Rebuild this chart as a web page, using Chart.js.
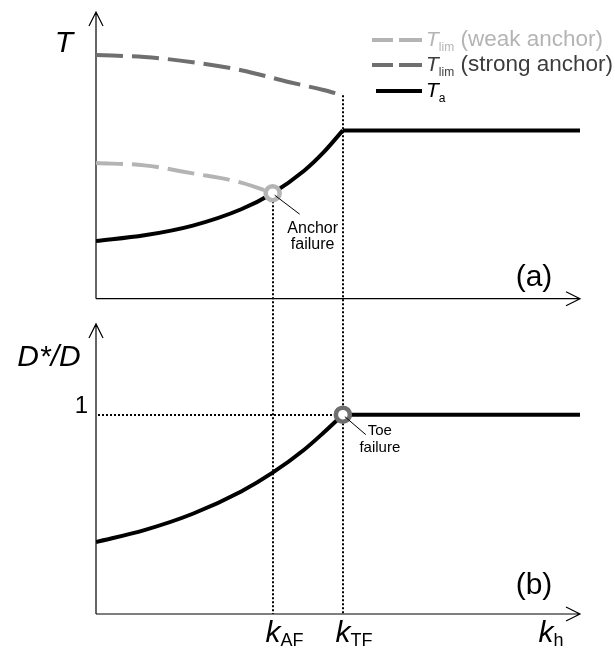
<!DOCTYPE html>
<html>
<head>
<meta charset="utf-8">
<script src="https://cdn.jsdelivr.net/npm/chart.js@4.4.1/dist/chart.umd.min.js"></script>
<style>
  body { margin: 0; background: #fff; }
  #wrap { width: 615px; height: 668px; }
</style>
</head>
<body>
<div id="wrap"><canvas id="chart" width="615" height="668"></canvas></div>
<script>
// positions along k_h (arbitrary units)
const K_AF = 3.65;
const K_TF = 5.1;
const K_MAX = 10;

// (a) applied force T_a and limit forces T_lim
const khCurve = [0, 1, 2, 3, 3.65, 4.3, 4.7, 5.1];
const tApplied = [2.01, 2.21, 2.55, 3.12, 3.68, 4.46, 5.10, 5.87];
const khPlateau = [5.1, 10];
const tAppliedPlateau = [5.87, 5.87];

const khWeak = [0, 1, 2, 3, 3.65];
const tLimWeak = [4.73, 4.65, 4.37, 4.05, 3.68];

const khStrong = [0, 1, 2, 3, 4, 4.7, 5.1];
const tLimStrong = [8.50, 8.43, 8.25, 7.97, 7.55, 7.28, 7.10];

// (b) embedment ratio D*/D
const dRatio = [0.361, 0.421, 0.503, 0.615, 0.709, 0.824, 0.909, 1.0];
const dRatioPlateau = [1, 1];
const dTicks = [1];

const COL_WEAK = '#b4b4b4';
const COL_STRONG = '#6f6f6f';
const FONT = '"Liberation Sans", Arial, sans-serif';

// axis extents (value at arrow tip)
const T_TOP = 10;
const D_TOP = 1.455;

function pts(xs, ys) {
    return xs.map((x, i) => ({x: x, y: ys[i]}));
}

function arrow(ctx, x0, y0, x1, y1) {
    const len = Math.hypot(x1 - x0, y1 - y0);
    const ux = (x1 - x0) / len, uy = (y1 - y0) / len;
    const L = 14, W = 7;
    ctx.beginPath();
    ctx.moveTo(x0, y0);
    ctx.lineTo(x1, y1);
    ctx.moveTo(x1 - L * ux - W * uy, y1 - L * uy + W * ux);
    ctx.lineTo(x1, y1);
    ctx.lineTo(x1 - L * ux + W * uy, y1 - L * uy - W * ux);
    ctx.stroke();
}

// draws a run of text pieces (main letter, subscript, rest) on one baseline
function textRun(ctx, x, y, parts) {
    let cx = x;
    ctx.textAlign = 'left';
    ctx.textBaseline = 'alphabetic';
    parts.forEach(p => {
        ctx.font = p.font;
        ctx.fillText(p.text, cx, y + (p.dy || 0));
        cx += ctx.measureText(p.text).width;
    });
}

function subLabel(ctx, x, y, main, sub) {
    ctx.font = 'italic 30px ' + FONT;
    const w = ctx.measureText(main).width;
    ctx.textAlign = 'center';
    ctx.fillText(main, x, y);
    ctx.font = '18px ' + FONT;
    ctx.textAlign = 'left';
    ctx.fillText(sub, x + w / 2, y + 4);
}

const sketchPlugin = {
    id: 'sketch',
    beforeDatasetsDraw(chart) {
        const ctx = chart.ctx;
        const {x, yT, yD} = chart.scales;
        const x0 = x.getPixelForValue(0);
        const x1 = x.getPixelForValue(K_MAX);

        ctx.save();
        ctx.strokeStyle = '#000';
        ctx.lineWidth = 1.2;
        // axes of both panels
        arrow(ctx, x0, yT.getPixelForValue(0), x0, yT.getPixelForValue(T_TOP));
        arrow(ctx, x0, yT.getPixelForValue(0), x1, yT.getPixelForValue(0));
        arrow(ctx, x0, yD.getPixelForValue(0), x0, yD.getPixelForValue(D_TOP));
        arrow(ctx, x0, yD.getPixelForValue(0), x1, yD.getPixelForValue(0));

        // dotted guides
        ctx.setLineDash([2, 2]);
        ctx.lineWidth = 2;
        ctx.beginPath();
        const xa = Math.round(x.getPixelForValue(K_AF));
        ctx.moveTo(xa, yT.getPixelForValue(tLimWeak[tLimWeak.length - 1]));
        ctx.lineTo(xa, yD.getPixelForValue(0));
        const xt = Math.round(x.getPixelForValue(K_TF));
        ctx.moveTo(xt, yT.getPixelForValue(tLimStrong[tLimStrong.length - 1]));
        ctx.lineTo(xt, yD.getPixelForValue(0));
        dTicks.forEach(v => {
            const yy = Math.round(yD.getPixelForValue(v));
            ctx.moveTo(x0 + 2, yy);
            ctx.lineTo(xt, yy);
        });
        ctx.stroke();
        ctx.restore();
    },
    afterDatasetsDraw(chart) {
        const ctx = chart.ctx;
        const {x, yT, yD} = chart.scales;
        const x0 = x.getPixelForValue(0);
        ctx.save();
        ctx.fillStyle = '#000';
        ctx.strokeStyle = '#000';

        // leader lines to the failure points
        const ax = x.getPixelForValue(K_AF), ay = yT.getPixelForValue(tLimWeak[tLimWeak.length - 1]);
        const tx = x.getPixelForValue(K_TF), ty = yD.getPixelForValue(1);
        ctx.lineWidth = 1;
        ctx.beginPath();
        ctx.moveTo(ax + 2, ay + 2);
        ctx.lineTo(ax + 27, ay + 21);
        ctx.moveTo(tx + 2, ty + 2);
        ctx.lineTo(tx + 23, ty + 20);
        ctx.stroke();

        ctx.textAlign = 'center';
        ctx.textBaseline = 'alphabetic';
        ctx.font = '16px ' + FONT;
        ctx.fillText('Anchor', ax + 40, ay + 40);
        ctx.fillText('failure', ax + 40, ay + 56);
        ctx.font = '15px ' + FONT;
        ctx.fillText('Toe', tx + 37, ty + 20);
        ctx.fillText('failure', tx + 37, ty + 37);

        // axis titles and ticks
        ctx.font = 'italic 30px ' + FONT;
        ctx.fillText('T', 64, 52);
        ctx.fillText('D*/D', 49, 366);
        ctx.font = '24px ' + FONT;
        ctx.textAlign = 'right';
        dTicks.forEach(v => ctx.fillText(String(v), x0 - 8, yD.getPixelForValue(v) - 2));

        // panel tags
        ctx.textAlign = 'center';
        ctx.font = '30px ' + FONT;
        ctx.fillText('(a)', 534, yT.getPixelForValue(0) - 13);
        ctx.fillText('(b)', 534, yD.getPixelForValue(0) - 20);

        // k labels under the lower axis
        const yk = yD.getPixelForValue(0) + 28;
        subLabel(ctx, Math.round(x.getPixelForValue(K_AF)), yk, 'k', 'AF');
        subLabel(ctx, Math.round(x.getPixelForValue(K_TF)), yk, 'k', 'TF');
        subLabel(ctx, x.getPixelForValue(K_MAX) - 34, yk, 'k', 'h');

        // legend
        const rows = [
            {y: 40, color: COL_WEAK, text: COL_WEAK, dash: true, sub: 'lim', rest: ' (weak anchor)'},
            {y: 65, color: COL_STRONG, text: '#3c3c3c', dash: true, sub: 'lim', rest: ' (strong anchor)'},
            {y: 91, color: '#000', text: '#000', dash: false, sub: 'a', rest: ''}
        ];
        rows.forEach(r => {
            ctx.strokeStyle = r.color;
            ctx.lineWidth = 4;
            ctx.beginPath();
            if (r.dash) {
                ctx.moveTo(372, r.y); ctx.lineTo(393, r.y);
                ctx.moveTo(399, r.y); ctx.lineTo(422, r.y);
            } else {
                ctx.moveTo(376, r.y); ctx.lineTo(422, r.y);
            }
            ctx.stroke();
            ctx.fillStyle = r.text;
            textRun(ctx, 426, r.y + 6, [
                {text: 'T', font: 'italic 21px ' + FONT},
                {text: r.sub, font: '12px ' + FONT, dy: 5},
                {text: r.rest, font: '22.5px ' + FONT}
            ]);
        });
        ctx.restore();
    }
};

const curve = {
    pointRadius: 0,
    borderWidth: 4,
    fill: false,
    cubicInterpolationMode: 'monotone'
};

new Chart(document.getElementById('chart'), {
    type: 'line',
    data: {
        datasets: [
            // failure markers first so they sit on top
            {data: [{x: K_AF, y: tLimWeak[tLimWeak.length - 1]}], yAxisID: 'yT', showLine: false,
             pointRadius: 7, pointBorderWidth: 4.5, pointBorderColor: COL_WEAK, pointBackgroundColor: '#fff'},
            {data: [{x: K_TF, y: 1}], yAxisID: 'yD', showLine: false,
             pointRadius: 7, pointBorderWidth: 4.5, pointBorderColor: COL_STRONG, pointBackgroundColor: '#fff'},
            {...curve, data: pts(khCurve, tApplied), yAxisID: 'yT', borderColor: '#000'},
            {...curve, data: pts(khPlateau, tAppliedPlateau), yAxisID: 'yT', borderColor: '#000'},
            {...curve, data: pts(khWeak, tLimWeak), yAxisID: 'yT', borderColor: COL_WEAK, borderDash: [27, 9]},
            {...curve, data: pts(khStrong, tLimStrong), yAxisID: 'yT', borderColor: COL_STRONG, borderDash: [27, 9]},
            {...curve, data: pts(khCurve, dRatio), yAxisID: 'yD', borderColor: '#000'},
            {...curve, data: pts(khPlateau, dRatioPlateau), yAxisID: 'yD', borderColor: '#000'}
        ]
    },
    options: {
        responsive: false,
        animation: false,
        events: [],
        layout: {padding: {left: 96, right: 35, top: 12, bottom: 54}},
        plugins: {legend: {display: false}, tooltip: {enabled: false}},
        scales: {
            x: {type: 'linear', min: 0, max: K_MAX, display: false},
            // both panels share the plot area; ranges place (a) above (b)
            yT: {type: 'linear', min: -11, max: 10, display: false},
            yD: {type: 'linear', min: 0, max: 3.02, display: false}
        }
    },
    plugins: [sketchPlugin]
});
</script>
</body>
</html>
